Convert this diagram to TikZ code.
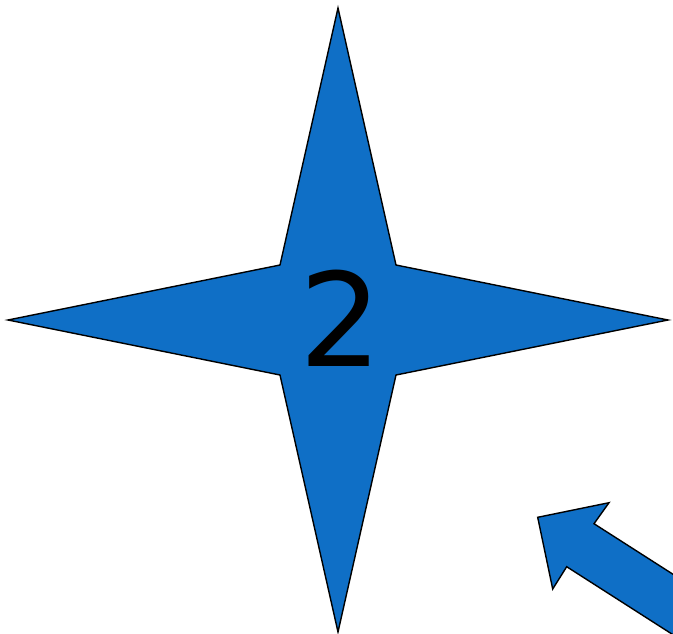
\documentclass[tikz,border=0pt]{standalone}
\usepackage{fontspec}
\setmainfont{DejaVu Sans}
\definecolor{starblue}{HTML}{0F6FC6}
\begin{document}
\begin{tikzpicture}[x=1pt,y=1pt,
  shapefill/.style={fill=starblue,draw=black,line width=1.4pt,line join=miter},
  bigtext/.style={font=\fontsize{130}{130}\selectfont,text=black,inner sep=0pt}]
\useasboundingbox (0,0) rectangle (673,-633);
\clip (0,0) rectangle (673,-633);
\draw[shapefill] (338,-8) -- (396,-265) -- (668,-320) -- (396,-375) -- (338,-632)
  -- (280,-375) -- (8,-320) -- (280,-265) -- cycle;
\node[bigtext] (two) at (341,-318) {2};
\draw[shapefill] (537.7,-517.3) -- (609,-502.7) -- (594,-523.7) -- (744,-619.7)
  -- (716.7,-662.7) -- (566.7,-566.7) -- (552.7,-589) -- cycle;
\end{tikzpicture}
\end{document}
